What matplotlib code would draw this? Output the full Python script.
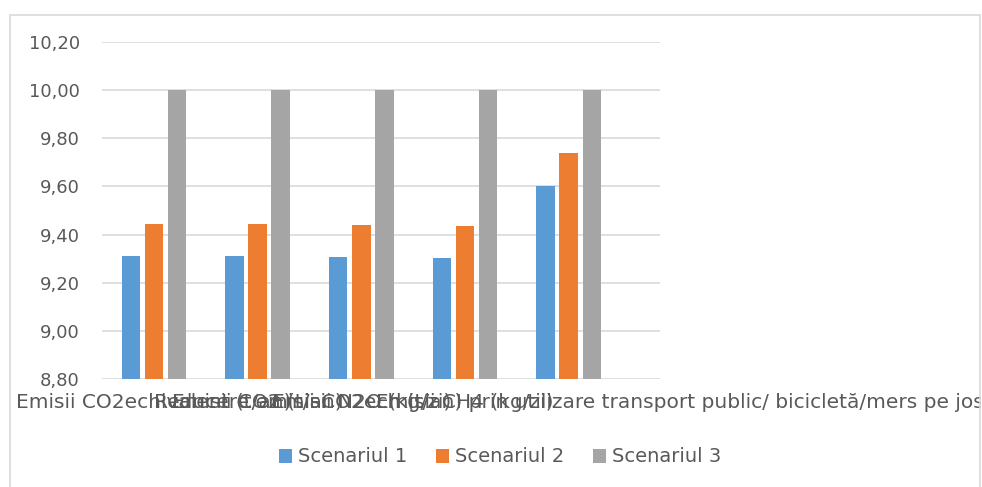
import numpy as np
import matplotlib
matplotlib.use("Agg")
import matplotlib.pyplot as plt
from matplotlib.patches import Rectangle

categories = [
    "Emisii CO2echivalent (t/an)",
    "Emisii CO2 (t/an)",
    "Emisii N2O (kg/zi)",
    "Emisii CH4 (kg/zi)",
    "Reducere emisii CO2ech (t/an) prin utilizare transport public/ bicicletă/mers pe jos",
]
scenariul_1 = [9.311, 9.311, 9.308, 9.304, 9.602]
scenariul_2 = [9.443, 9.443, 9.438, 9.436, 9.738]
scenariul_3 = [10.00, 10.00, 10.00, 10.00, 10.00]
series_names = ["Scenariul 1", "Scenariul 2", "Scenariul 3"]
colors = ["#5B9BD5", "#ED7D31", "#A5A5A5"]
yticks = [8.80, 9.00, 9.20, 9.40, 9.60, 9.80, 10.00, 10.20]

W, H = 982, 487
fig = plt.figure(figsize=(W / 100, H / 100), dpi=100)

ax = fig.add_axes([102 / W, 1 - 379 / H, (660 - 102) / W, (379 - 42) / H])
x = np.arange(len(categories))
bw = 0.178
gap = 0.044
for i, (vals, name, c) in enumerate(zip([scenariul_1, scenariul_2, scenariul_3], series_names, colors)):
    offs = (i - 1) * (bw + gap)
    ax.bar(x + offs, np.array(vals) - 8.8, bw, bottom=8.8, color=c, label=name, zorder=3)

ax.set_ylim(8.8, 10.2)
ax.set_xlim(-0.5, 4.88)
ax.set_yticks(yticks)
ax.set_yticklabels([f"{v:.2f}".replace(".", ",") for v in yticks])
ax.set_xticks(x)
ax.set_xticklabels(categories)
ax.grid(axis="y", color="#d9d9d9", linewidth=1.2, zorder=0)
for s in ax.spines.values():
    s.set_visible(False)
ax.tick_params(axis="both", length=0, colors="#595959")
ax.tick_params(axis="y", pad=16, labelsize=13)
ax.tick_params(axis="x", pad=10, labelsize=14.5)

fig.legend(loc="center", bbox_to_anchor=(500 / W, 1 - 457 / H), ncol=3, frameon=False,
           fontsize=14, handlelength=0.7, handleheight=0.7, handletextpad=0.3, columnspacing=1.45,
           labelcolor="#595959")

# chart area border, drawn on top so the long label runs under it
border = Rectangle((10 / W, -0.01), 970 / W, 1.01 - 15 / H, transform=fig.transFigure,
                   fill=False, edgecolor="#d9d9d9", linewidth=1.2, zorder=10)
fig.add_artist(border)
cover = Rectangle((981 / W, 0), 1 / W, 1, transform=fig.transFigure,
                  facecolor="white", edgecolor="none", zorder=9)
fig.add_artist(cover)

fig.savefig("out.png", dpi=100)
